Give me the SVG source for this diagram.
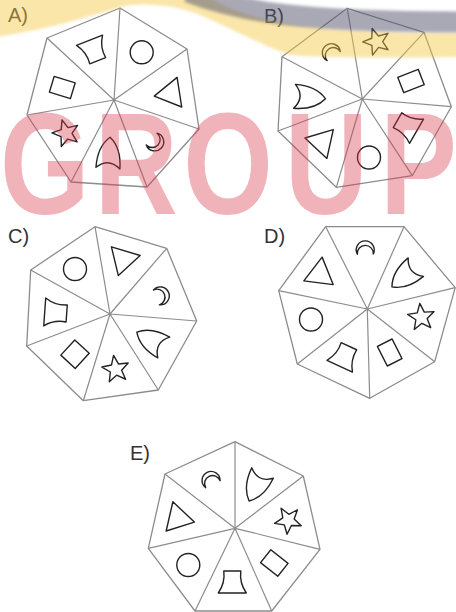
<svg xmlns="http://www.w3.org/2000/svg" xmlns:xlink="http://www.w3.org/1999/xlink" width="456" height="612" viewBox="0 0 456 612">
<style>
.hep{fill:#fff;stroke:#8c8c8c;stroke-width:1.3;stroke-linejoin:round}
.sp{fill:none;stroke:#8c8c8c;stroke-width:1.2}
.sh{fill:none;stroke:#222;stroke-width:1.4;stroke-linejoin:round}
.lbl{font-family:"Liberation Sans",Arial,sans-serif;font-size:20px;fill:#333}
.wm{font-family:"Liberation Sans",Arial,sans-serif;font-weight:bold;font-size:144px;fill:#d83a4a;opacity:0.38}
</style>
<defs>
<filter id="soft" x="-5%" y="-50%" width="110%" height="200%"><feGaussianBlur stdDeviation="1.5"/></filter>
<circle id="circ" class="sh" r="11.5"/>
<polygon id="tri" class="sh" points="0,17 -15,-8.5 15,-8.5"/>
<rect id="sq" class="sh" x="-8.25" y="-11" width="16.5" height="22"/>
<rect id="sq2" class="sh" x="-9.8" y="-10.3" width="19.6" height="20.6"/>
<polygon id="star" class="sh" points="0,14 -3.53,4.85 -13.31,4.33 -5.71,-1.85 -8.23,-11.33 0,-6 8.23,-11.33 5.71,-1.85 13.31,4.33 3.53,4.85"/>
<path id="moon" class="sh" d="M-7.97,6.58 A9,9 0 1 1 7.97,6.58 A8,8 0 1 0 -7.97,6.58 Z"/>
<path id="shield" class="sh" d="M0,15.5 Q-12,5.5 -12,-15.5 Q0,-4.5 12,-15.5 Q12,5.5 0,15.5 Z"/>
<path id="bucket" class="sh" d="M-14,-11 L14,-11 Q7,-1 8.5,11 L-8.5,11 Q-7,-1 -14,-11 Z"/>
</defs>
<rect width="456" height="612" fill="#fff"/>

<g id="panelA">
<polygon class="hep" points="120,8 187,49 199,129 147,187 71,182 27,115 47,38"/>
<path class="sp" d="M114,100 L120,8 M114,100 L187,49 M114,100 L199,129 M114,100 L147,187 M114,100 L71,182 M114,100 L27,115 M114,100 L47,38"/>
<use xlink:href="#circ" transform="translate(141.7,52.3)"/>
<use xlink:href="#tri" transform="translate(171,93.5) rotate(81.1)"/>
<use xlink:href="#moon" transform="translate(156.5,143.5) rotate(132.6)"/>
<use xlink:href="#shield" transform="translate(109,152.7) rotate(184)"/>
<use xlink:href="#star" transform="translate(66,133.3) rotate(235.4)"/>
<use xlink:href="#sq" transform="translate(62.3,87.5) rotate(286.9)"/>
<use xlink:href="#bucket" transform="translate(93.6,50.5) rotate(338.3)"/>
<text class="lbl" x="8" y="21.5">A)</text>
</g>

<g id="panelB">
<polygon class="hep" points="347.3,8.3 424,32.3 451.3,106.7 412.3,175.7 336.3,187.3 278,131 282,56.7"/>
<path class="sp" d="M362.3,99 L347.3,8.3 M362.3,99 L424,32.3 M362.3,99 L451.3,106.7 M362.3,99 L412.3,175.7 M362.3,99 L336.3,187.3 M362.3,99 L278,131 M362.3,99 L282,56.7"/>
<use xlink:href="#star" transform="translate(376.7,41.7) rotate(17.2)"/>
<use xlink:href="#sq" transform="translate(411,81) rotate(68.6)"/>
<use xlink:href="#bucket" transform="translate(407,125.7) rotate(120)"/>
<use xlink:href="#circ" transform="translate(369,157.5)"/>
<use xlink:href="#tri" transform="translate(321.7,142) rotate(222.9)"/>
<use xlink:href="#shield" transform="translate(310,97.5) rotate(274.3)"/>
<use xlink:href="#moon" transform="translate(330,50.7) rotate(325.7)"/>
<text class="lbl" x="264" y="22.5">B)</text>
</g>

<g id="panelC">
<polygon class="hep" points="95,226.7 166.7,248.3 196.7,321 158.3,390 83.3,400.7 26.7,346 30.7,270"/>
<path class="sp" d="M110,314 L95,226.7 M110,314 L166.7,248.3 M110,314 L196.7,321 M110,314 L158.3,390 M110,314 L83.3,400.7 M110,314 L26.7,346 M110,314 L30.7,270"/>
<use xlink:href="#tri" transform="translate(123.3,259.3) rotate(16.9)"/>
<use xlink:href="#moon" transform="translate(162.5,295) rotate(68.4)"/>
<use xlink:href="#shield" transform="translate(150.3,339.8) rotate(119.8)"/>
<use xlink:href="#star" transform="translate(115.7,369.3) rotate(171.2)"/>
<use xlink:href="#sq2" transform="translate(75,354.2) rotate(222.7)"/>
<use xlink:href="#bucket" transform="translate(55.7,312.7) rotate(274.1)"/>
<use xlink:href="#circ" transform="translate(75,269)"/>
<text class="lbl" x="8" y="243">C)</text>
</g>

<g id="panelD">
<polygon class="hep" points="325.7,226.7 404,226.7 455.2,287.7 434.7,361.7 369.7,398.3 297.3,364 278.7,290.7"/>
<path class="sp" d="M367.3,309 L325.7,226.7 M367.3,309 L404,226.7 M367.3,309 L455.2,287.7 M367.3,309 L434.7,361.7 M367.3,309 L369.7,398.3 M367.3,309 L297.3,364 M367.3,309 L278.7,290.7"/>
<use xlink:href="#moon" transform="translate(365.2,247.5) rotate(-1)"/>
<use xlink:href="#shield" transform="translate(403.9,277) rotate(50.4)"/>
<use xlink:href="#star" transform="translate(421.3,317.3) rotate(101.9)"/>
<use xlink:href="#sq" transform="translate(389.7,352.5) rotate(153.3)"/>
<use xlink:href="#bucket" transform="translate(344.3,356.2) rotate(204.7)"/>
<use xlink:href="#circ" transform="translate(311,319.5)"/>
<use xlink:href="#tri" transform="translate(319.7,274.2) rotate(307.6)"/>
<text class="lbl" x="264" y="243">D)</text>
</g>

<g id="panelE">
<polygon class="hep" points="235,441.7 303.3,476 320,549.3 271.7,611 195,611 148.3,548.3 165,474"/>
<path class="sp" d="M235,528.3 L235,441.7 M235,528.3 L303.3,476 M235,528.3 L320,549.3 M235,528.3 L271.7,611 M235,528.3 L195,611 M235,528.3 L148.3,548.3 M235,528.3 L165,474"/>
<use xlink:href="#shield" transform="translate(255.8,487) rotate(25.7)"/>
<use xlink:href="#star" transform="translate(288.3,520.3) rotate(77.1)"/>
<use xlink:href="#sq" transform="translate(274.3,563) rotate(128.6)"/>
<use xlink:href="#bucket" transform="translate(232.3,582) rotate(180)"/>
<use xlink:href="#circ" transform="translate(188.3,565)"/>
<use xlink:href="#tri" transform="translate(177.8,518.3) rotate(282.9)"/>
<use xlink:href="#moon" transform="translate(210,478.3) rotate(334.3)"/>
<text class="lbl" x="130" y="459.5">E)</text>
</g>

<g id="watermark">
<path filter="url(#soft)" fill="#f5c842" opacity="0.45" d="M-5,-5 L205,-5 C240,18 300,34 461,33 L461,57 C400,58 320,58 290,55 C260,45 225,25 200,15 C180,6 150,3 130,5 C100,12 60,28 -5,37 Z"/>
<path filter="url(#soft)" fill="none" stroke="#555570" stroke-width="21" opacity="0.5" d="M188,-8 C240,12 300,22 462,22"/>
<g transform="scale(0.8,1)">
<text class="wm" x="56" y="214" text-anchor="middle">G</text>
<text class="wm" x="170" y="214" text-anchor="middle">R</text>
<text class="wm" x="285" y="214" text-anchor="middle">O</text>
<text class="wm" x="408" y="214" text-anchor="middle">U</text>
<text class="wm" x="523" y="214" text-anchor="middle">P</text>
</g>
</g>
</svg>
